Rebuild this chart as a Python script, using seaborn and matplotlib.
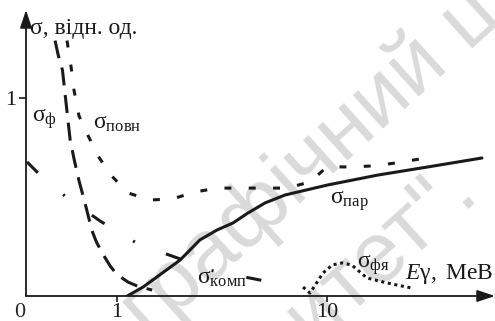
import numpy as np
import matplotlib
matplotlib.use("Agg")
import matplotlib.pyplot as plt
import seaborn as sns

# ----------------------------
# Data (E in MeV, sigma in relative units)
# ----------------------------
e_photo = [0.507, 0.524, 0.55, 0.57, 0.598, 0.625, 0.66, 0.70, 0.76, 0.80, 0.87, 0.93, 0.98, 1.06, 1.13, 1.25, 1.47]
s_photo = [1.29, 1.22, 1.14, 0.99, 0.79, 0.69, 0.58, 0.48, 0.33, 0.27, 0.20, 0.15, 0.12, 0.09, 0.07, 0.05, 0.03]

e_total = [0.578, 0.604, 0.624, 0.659, 0.728, 0.821, 0.936, 1.13, 1.44, 1.83, 2.35, 2.99, 3.98, 5.07, 6.45, 8.3, 10.0, 12.9, 16.6, 21.3, 27.7]
s_total = [1.29, 1.16, 1.04, 0.91, 0.81, 0.70, 0.61, 0.52, 0.485, 0.49, 0.525, 0.545, 0.545, 0.545, 0.545, 0.576, 0.652, 0.652, 0.657, 0.672, 0.692]

e_pair = [1.12, 1.33, 2.0, 2.48, 2.99, 3.57, 4.2, 5.07, 6.31, 10.1, 17.5, 30.3, 54.7]
s_pair = [0.0, 0.045, 0.182, 0.283, 0.333, 0.369, 0.419, 0.47, 0.51, 0.561, 0.611, 0.652, 0.697]

e_compton = [0.373, 0.421, 0.565, 0.83, 1.26, 2.0, 2.74, 5.35]
s_compton = [0.677, 0.621, 0.505, 0.379, 0.263, 0.187, 0.131, 0.071]

e_nuclear = [7.69, 8.3, 9.57, 10.6, 11.8, 13.1, 15.5, 19.3, 25.4]
s_nuclear = [0.045, 0.015, 0.116, 0.157, 0.167, 0.157, 0.091, 0.066, 0.04]

sns.set_theme(style="white")
plt.rcParams["font.family"] = "serif"
plt.rcParams["font.serif"] = ["Liberation Serif", "DejaVu Serif"]
plt.rcParams["mathtext.fontset"] = "custom"
plt.rcParams["mathtext.rm"] = "Liberation Serif"
plt.rcParams["mathtext.it"] = "Liberation Serif:italic"
plt.rcParams["lines.scale_dashes"] = False

fig = plt.figure(figsize=(4.95, 3.21), dpi=100)
ax = fig.add_axes([26 / 495, 25 / 321, 469 / 495, 286 / 321])
ax.patch.set_visible(False)

# watermark (two faint rotated lines)
wm = dict(fontsize=62, color="#dadada", family="Liberation Sans",
          rotation=42, rotation_mode="anchor", zorder=-1)
fig.text(0.630, 0.495, "графічний ц", ha="center", va="center", **wm)
fig.text(482 / 495, 1 - 197 / 321, "університет\".", ha="right",
         va="baseline", **wm)

lw = 2.2
sns.lineplot(x=e_photo, y=s_photo, ax=ax, color="k", lw=lw, sort=False,
             estimator=None, ls=(0, (13, 7)))
sns.lineplot(x=e_total, y=s_total, ax=ax, color="k", lw=lw, sort=False,
             estimator=None, ls=(0, (5, 12.5)))
sns.lineplot(x=e_pair, y=s_pair, ax=ax, color="k", lw=lw, sort=False,
             estimator=None)
sns.lineplot(x=e_compton, y=s_compton, ax=ax, color="k", lw=lw, sort=False,
             estimator=None, ls=(0, (11, 24, 1.5, 24)))
sns.lineplot(x=e_nuclear, y=s_nuclear, ax=ax, color="k", lw=lw, sort=False,
             estimator=None, ls=(0, (2.2, 2.6)))

ax.set_xscale("log")
ax.set_xlim(10 ** (-91 / 210), 10 ** (378 / 210))
ax.set_ylim(0, 286 / 198)
ax.minorticks_off()
ax.set_xticks([1, 10])
ax.set_xticklabels(["1", "10"])
ax.set_yticks([1])
ax.set_yticklabels(["1"])
ax.tick_params(axis="x", direction="out", length=4, width=1.2, pad=1,
               labelsize=16, bottom=True, colors="k")
ax.tick_params(axis="y", direction="out", length=5, width=1.2, pad=2,
               labelsize=16, left=True, colors="k")
for s in ax.spines.values():
    s.set_visible(False)
ax.set_xlabel("")
ax.set_ylabel("")

# axes with arrows
arrow = dict(arrowstyle="-|>,head_length=0.9,head_width=0.3", lw=1.3,
             color="k", shrinkA=0, shrinkB=0, mutation_scale=12)
ax.annotate("", xy=(1.0, 0), xytext=(0, 0), xycoords="axes fraction",
            arrowprops=arrow)
ax.annotate("", xy=(0, 1.0), xytext=(0, 0), xycoords="axes fraction",
            arrowprops=arrow)

# labels
tx = dict(transform=ax.transAxes, ha="left", va="baseline", clip_on=False,
          color="k")
ax.text(0.0085, 0.916, "σ, відн. од.", fontsize=17, **tx)
ax.text(-0.013, -0.025, "0", fontsize=16, ha="center", va="top",
        transform=ax.transAxes, clip_on=False)
ax.text(0.0128, 0.608, r"$\mathrm{σ}_{\mathrm{ф}}$", fontsize=17, **tx)
ax.text(0.143, 0.584, r"$\mathrm{σ}_{\mathrm{повн}}$", fontsize=17, **tx)
ax.text(0.648, 0.322, r"$\mathrm{σ}_{\mathrm{пар}}$", fontsize=17, **tx)
ax.text(0.365, 0.042, r"$\mathrm{σ}_{\mathrm{комп}}$", fontsize=17, **tx)
ax.text(0.706, 0.098, r"$\mathrm{σ}_{\mathrm{фя}}$", fontsize=17, **tx)
ax.text(0.808, 0.059, r"$\mathit{E}\mathrm{γ,\ MeB}$", fontsize=17, **tx)

fig.savefig("out.png", dpi=100)
